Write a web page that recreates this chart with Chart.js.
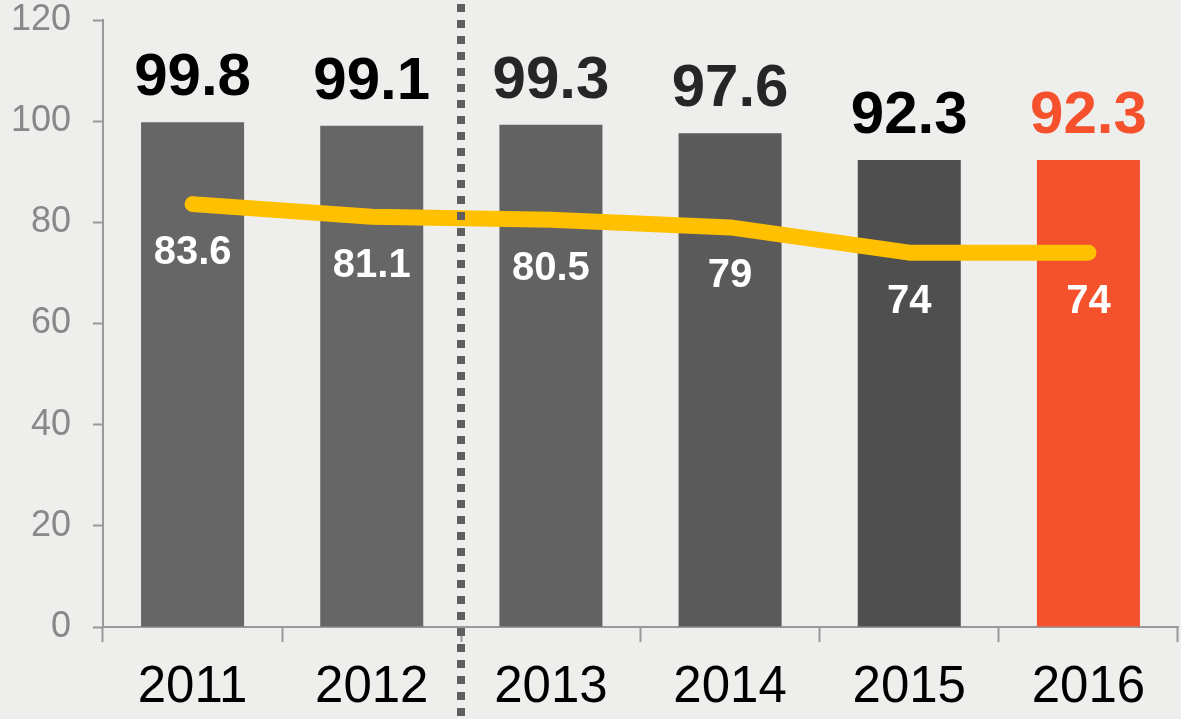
<!DOCTYPE html>
<html>
<head>
<meta charset="utf-8">
<script src="https://cdn.jsdelivr.net/npm/chart.js@4"></script>
<style>
	html, body { margin: 0; padding: 0; background: #eeeeec; }
	#wrap { width: 1181px; height: 719px; }
</style>
</head>
<body>
<div id="wrap"><canvas id="chart" width="1181" height="719"></canvas></div>
<script>
const years = ['2011', '2012', '2013', '2014', '2015', '2016'];
const barValues = [99.8, 99.1, 99.3, 97.6, 92.3, 92.3];
const lineValues = [83.6, 81.1, 80.5, 79, 74, 74];
const yTicks = [0, 20, 40, 60, 80, 100, 120];

const barColors = ['#666666', '#666666', '#626262', '#5a5a5a', '#4f4f4f', '#f5512d'];
const barLabelColors = ['#000000', '#000000', '#262626', '#262626', '#000000', '#f5512d'];

// value labels above bars and below line points
const valueLabels = {
	id: 'valueLabels',
	afterDatasetsDraw(chart) {
		const ctx = chart.ctx;
		ctx.save();
		ctx.textAlign = 'center';
		ctx.textBaseline = 'alphabetic';
		const bars = chart.getDatasetMeta(0).data;
		ctx.font = 'bold 60px "Liberation Sans", Arial, sans-serif';
		bars.forEach((bar, i) => {
			ctx.fillStyle = barLabelColors[i];
			ctx.fillText(String(barValues[i]), bar.x, bar.y - 27);
		});
		const points = chart.getDatasetMeta(1).data;
		ctx.font = 'bold 40px "Liberation Sans", Arial, sans-serif';
		ctx.fillStyle = '#ffffff';
		points.forEach((pt, i) => {
			ctx.fillText(String(lineValues[i]), pt.x, pt.y + 60);
		});
		ctx.restore();
	},
	afterDraw(chart) {
		// dotted divider between 2012 and 2013
		const x = chart.scales.x;
		const xPos = Math.round((x.getPixelForValue(1) + x.getPixelForValue(2)) / 2);
		const ctx = chart.ctx;
		ctx.save();
		ctx.strokeStyle = '#5e5e5e';
		ctx.lineWidth = 8;
		ctx.setLineDash([8, 8]);
		ctx.beginPath();
		ctx.moveTo(xPos, 4);
		ctx.lineTo(xPos, chart.height);
		ctx.stroke();
		ctx.restore();
	},
};

const ctx = document.getElementById('chart').getContext('2d');
new Chart(ctx, {
	data: {
		labels: years,
		datasets: [
			{
				type: 'bar',
				data: barValues,
				backgroundColor: barColors,
				barPercentage: 0.575,
				categoryPercentage: 1,
				order: 1,
			},
			{
				type: 'line',
				data: lineValues,
				borderColor: '#ffc000',
				borderWidth: 16,
				borderCapStyle: 'round',
				borderJoinStyle: 'round',
				pointRadius: 0,
				tension: 0,
				order: 0,
			},
		],
	},
	options: {
		responsive: false,
		animation: false,
		layout: { padding: { top: 0, right: 3, left: 0, bottom: 0 } },
		plugins: {
			legend: { display: false },
			tooltip: { enabled: false },
		},
		scales: {
			x: {
				grid: {
					drawOnChartArea: false,
					drawTicks: true,
					tickLength: 15,
					tickWidth: 2,
					tickColor: '#999999',
					offset: true,
				},
				border: { color: '#999999', width: 2 },
				ticks: {
					color: '#000000',
					font: { family: '"Liberation Sans", Arial, sans-serif', size: 51 },
					padding: 15,
				},
				afterFit(scale) {
					scale.height = 92;
				},
			},
			y: {
				min: 0,
				max: 120,
				afterBuildTicks(scale) {
					scale.ticks = yTicks.map((v) => ({ value: v }));
				},
				grid: {
					drawOnChartArea: false,
					drawTicks: true,
					tickLength: 10,
					tickWidth: 2,
					tickColor: '#999999',
				},
				border: { color: '#999999', width: 2 },
				ticks: {
					color: '#888888',
					font: { family: '"Liberation Sans", Arial, sans-serif', size: 36 },
					padding: 22,
				},
				afterFit(scale) {
					scale.width = 103;
					scale.paddingTop = 20;
					scale.paddingBottom = 0;
				},
			},
		},
	},
	plugins: [valueLabels],
});
</script>
</body>
</html>
